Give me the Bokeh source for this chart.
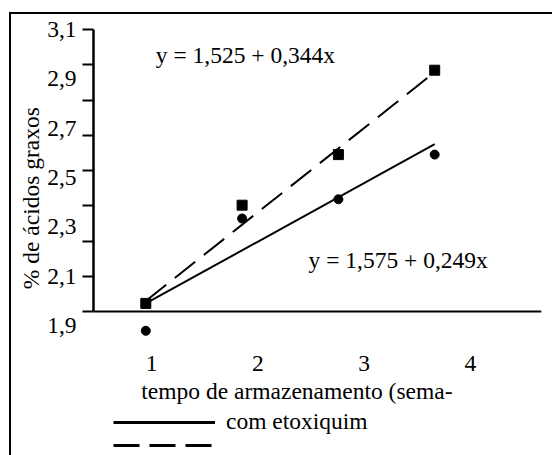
from bokeh.plotting import figure
from bokeh.layouts import column
from bokeh.models import (Range1d, LinearAxis, FixedTicker, Span, Label, Legend,
                          LegendItem, CustomJSTickFormatter)
from bokeh.embed import file_html
from bokeh.resources import INLINE

# ---- data ----
weeks = [1, 2, 3, 4]
acids_with = [1.879, 2.334, 2.412, 2.593]      # circles, com etoxiquim
acids_without = [1.990, 2.388, 2.593, 2.935]   # squares
fit_x = [1, 4]
fit_with = [1.99, 2.635]
fit_without = [2.00, 2.927]
y_tick_values = [1.9, 2.1, 2.3, 2.5, 2.7, 2.9, 3.1]
x_tick_labels = ["1", "2", "3", "4"]
eq_without = "y = 1,525 + 0,344x"
eq_with = "y = 1,575 + 0,249x"
legend_labels = ["com etoxiquim", " "]
x_title = "tempo de armazenamento (sema-"
y_title = "% de ácidos graxos"

FONT = "Liberation Serif"
FS = "23.5px"

y_top = 3.1
tick_marks = [y_top - k / 7 for k in range(8, -1, -1)]

p = figure(frame_width=448, frame_height=308,
           x_range=Range1d(0.4569, 5.109), y_range=Range1d(1.8518, 3.1),
           output_backend="svg", toolbar_location=None,
           x_axis_location=None, y_axis_location="left",
           min_border_left=82, min_border_top=15, min_border_right=11,
           min_border_bottom=70)
p.extra_x_ranges = {"lab": Range1d(0.4545, 4.668)}
p.grid.visible = False
p.outline_line_color = None

# tick-mark axis
ya = p.yaxis[0]
ya.ticker = FixedTicker(ticks=tick_marks, minor_ticks=[])
ya.bounds = (tick_marks[0], tick_marks[-1])
ya.axis_line_width = 2.5
ya.major_tick_line_width = 2
ya.major_tick_out = 11
ya.major_tick_in = 0
ya.minor_tick_out = 0
ya.minor_tick_in = 0
ya.major_label_standoff = 0
ya.formatter = CustomJSTickFormatter(code="return ''")

# label axis (trailing spaces shift the centred title as in the original)
yb = LinearAxis(ticker=FixedTicker(ticks=y_tick_values, minor_ticks=[]),
                formatter=CustomJSTickFormatter(code="return tick.toFixed(1).replace('.', ',')"),
                axis_line_color=None, major_tick_line_color=None,
                minor_tick_line_color=None, major_tick_out=0, major_tick_in=0,
                major_label_standoff=6,
                major_label_text_font=FONT, major_label_text_font_size=FS,
                major_label_text_color="black",
                axis_label=y_title + " " * 5, axis_label_text_font=FONT,
                axis_label_text_font_size=FS, axis_label_text_font_style="normal",
                axis_label_text_color="black", axis_label_standoff=0)
p.add_layout(yb, "left")

xb = LinearAxis(x_range_name="lab",
                ticker=FixedTicker(ticks=weeks, minor_ticks=[]),
                major_label_overrides={w: t for w, t in zip(weeks, x_tick_labels)},
                axis_line_color=None, major_tick_line_color=None,
                minor_tick_line_color=None, major_tick_out=0, major_tick_in=0,
                major_label_standoff=18,
                major_label_text_font=FONT, major_label_text_font_size=FS,
                major_label_text_color="black",
                axis_label=x_title + " " * 7, axis_label_text_font=FONT,
                axis_label_text_font_size=FS, axis_label_text_font_style="normal",
                axis_label_text_color="black", axis_label_standoff=4)
p.add_layout(xb, "below")

p.add_layout(Span(location=tick_marks[0], dimension="width",
                  line_color="black", line_width=2))

p.line(fit_x, fit_with, line_color="black", line_width=2)
p.line(fit_x, fit_without, line_color="black", line_width=2, line_dash="26 11")
p.scatter(weeks, acids_without, marker="square", size=10, color="black")
p.scatter(weeks, acids_with, marker="circle", size=9, color="black")

for txt, x, y in [(eq_without, 1.104, 2.995), (eq_with, 2.69, 2.165)]:
    p.add_layout(Label(x=x, y=y, text=txt, text_font=FONT, text_font_size=FS,
                       text_color="black", text_baseline="alphabetic"))

# legend strip below the chart (its own copies of the two fits, outside its view)
p2 = figure(width=541, height=48, x_range=Range1d(0, 0.5), y_range=Range1d(0, 0.5),
            output_backend="svg", toolbar_location=None,
            x_axis_location=None, y_axis_location=None, min_border=0)
p2.grid.visible = False
p2.outline_line_color = None
l_with = p2.line(fit_x, fit_with, line_color="black", line_width=3)
l_without = p2.line(fit_x, fit_without, line_color="black", line_width=3,
                    line_dash="26 10")
legend = Legend(items=[LegendItem(label=legend_labels[0], renderers=[l_with]),
                       LegendItem(label=legend_labels[1], renderers=[l_without])],
                location=(20, 0), orientation="vertical",
                glyph_width=102, glyph_height=20, label_height=20,
                label_standoff=11, spacing=0, padding=0, margin=0,
                border_line_color=None, background_fill_alpha=0,
                inactive_fill_alpha=0,
                label_text_font=FONT, label_text_font_size=FS,
                label_text_color="black")
p2.add_layout(legend, "center")

lay = column(p, p2, spacing=0)
lay.margin = (12, 0, 0, 9)
lay.styles = {"border-top": "2px solid black", "border-left": "2px solid black"}

open("out.html", "w").write(file_html(lay, INLINE))
